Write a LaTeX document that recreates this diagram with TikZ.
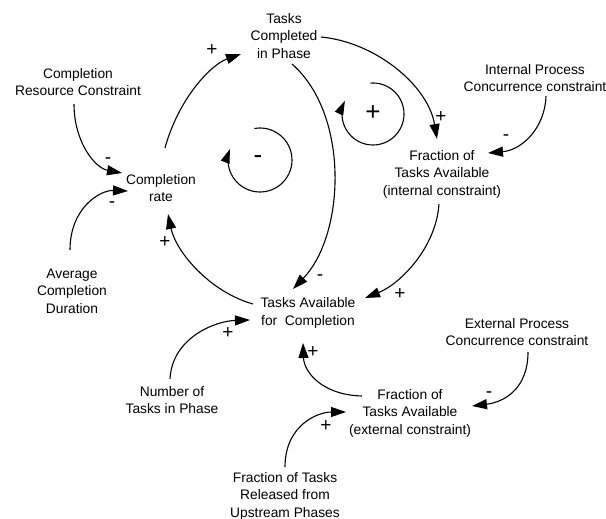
\documentclass[tikz,border=0pt]{standalone}
\usepackage{fontspec}
\setmainfont{Liberation Sans}
\usetikzlibrary{arrows.meta,calc}
\begin{document}
\begin{tikzpicture}[x=1pt,y=-1pt,
  var/.style={align=center,font=\fontsize{13.8}{17.5}\selectfont,inner sep=0pt},
  link/.style={line width=1.1pt,-{Triangle[length=15pt,width=10pt]}},
  loopline/.style={line width=1.1pt,-{Triangle[length=14pt,width=9pt]}},
  pol/.style={font=\fontsize{19}{19}\selectfont,inner sep=0pt},
  loopsign/.style={font=\fontsize{26}{26}\selectfont,inner sep=0pt},
  ]
\path[use as bounding box] (0,0) rectangle (606,519);

% variables
\node[var] (crc)   at (78,82)   {Completion\\Resource Constraint};
\node[var] (crate) at (161,188) {Completion\\rate};
\node[var] (tcp)   at (284,36)  {Tasks\\Completed\\in Phase};
\node[var] (ipc)   at (535,78)  {Internal Process\\Concurrence constraint};
\node[var] (fint)  at (442,174) {Fraction of\\Tasks Available\\(internal constraint)};
\node[var] (acd)   at (72,291)  {Average\\Completion\\Duration};
\node[var] (tafc)  at (308,313) {Tasks Available\\for~ Completion};
\node[var] (ntp)   at (172,400) {Number of\\Tasks in Phase};
\node[var] (epc)   at (517,332) {External Process\\Concurrence constraint};
\node[var] (fext)  at (410,413) {Fraction of\\Tasks Available\\(external constraint)};
\node[var] (ftr)   at (285,496) {Fraction of Tasks\\Released from\\Upstream Phases};

% causal links
\draw[link] ([shift={(4,-40)}]crate.center) .. controls (178,100) and (210,65) .. ([shift={(-43,18)}]tcp.center);
\draw[link] ([shift={(37,1)}]tcp.center) .. controls (375,42) and (428,85) .. ([shift={(-5,-35)}]fint.center);
\draw[link] ([shift={(11,18)}]ipc.center) .. controls (545,128) and (522,150) .. ([shift={(46,-21)}]fint.center);
\draw[link] ([shift={(8,28)}]tcp.center) .. controls (350,115) and (345,235) .. ([shift={(-15,-24)}]tafc.center);
\draw[link] ([shift={(-3,30)}]fint.center) .. controls (436,248) and (400,284) .. ([shift={(57,-15)}]tafc.center);
\draw[link] ([shift={(-55,-9)}]tafc.center) .. controls (210,292) and (176,252) .. ([shift={(7,26)}]crate.center);
\draw[link] ([shift={(-4,22)}]crc.center) .. controls (74,142) and (95,168) .. ([shift={(-39,-15)}]crate.center);
\draw[link] ([shift={(-2,-41)}]acd.center) .. controls (70,208) and (100,190) .. ([shift={(-33,3)}]crate.center);
\draw[link] ([shift={(-2,-21)}]ntp.center) .. controls (172,338) and (215,321) .. ([shift={(-58,7)}]tafc.center);
\draw[link] ([shift={(-48,-17)}]fext.center) .. controls (322,395) and (304,372) .. ([shift={(-5,30)}]tafc.center);
\draw[link] ([shift={(11,20)}]epc.center) .. controls (528,388) and (505,402) .. ([shift={(62,-7)}]fext.center);
\draw[link] ([shift={(0,-29)}]ftr.center) .. controls (285,425) and (318,412) .. ([shift={(-64,-1)}]fext.center);

% link polarities
\node[pol] (pa) at (212,50)  {+};
\node[pol] (pb) at (441,117) {+};
\node[pol] (pc) at (506,138) {-};
\node[pol] (pd) at (320,278) {-};
\node[pol] (pe) at (400,294) {+};
\node[pol] (pf) at (165,242) {+};
\node[pol] (pg) at (108,161) {-};
\node[pol] (ph) at (112,205) {-};
\node[pol] (pi) at (228,333) {+};
\node[pol] (pj) at (313,352) {+};
\node[pol] (pk) at (489,395) {-};
\node[pol] (pl) at (326,426) {+};

% feedback loop markers
\node[loopsign] (negloop) at (258,160) {-};
\node[loopsign] (posloop) at (373,113) {+};
\draw[loopline] ([shift={(260:32)}]260,160) arc[start angle=260, end angle=560, radius=32];
\draw[loopline] ([shift={(265:31)}]373,114) arc[start angle=265, end angle=565, radius=31];
\end{tikzpicture}
\end{document}
